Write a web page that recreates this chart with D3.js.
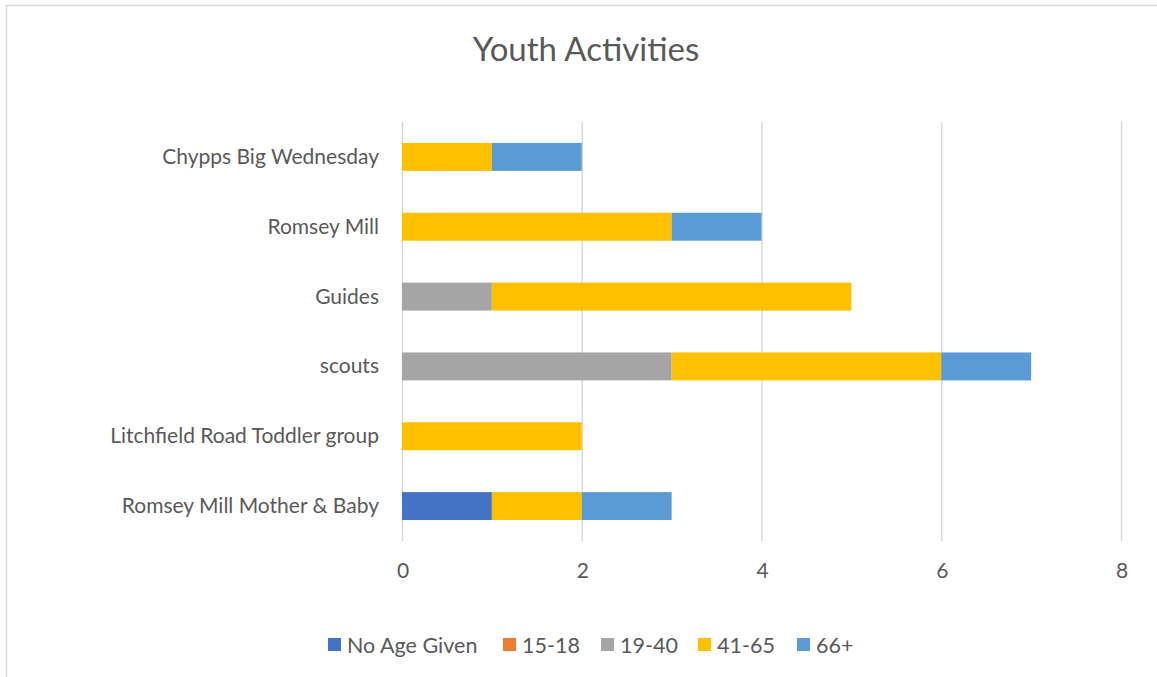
<!DOCTYPE html>
<html><head><meta charset="utf-8">
<script src="https://cdn.jsdelivr.net/npm/d3@7"></script>
<style>body{margin:0;background:#fff}svg{display:block}text{font-family:Lato,"Open Sans",sans-serif;fill:#595959}</style>
</head><body>
<script>
const categories = ["Chypps Big Wednesday","Romsey Mill","Guides","scouts","Litchfield Road Toddler group","Romsey Mill Mother & Baby"];
const seriesNames = ["No Age Given","15-18","19-40","41-65","66+"];
const noAgeGiven = [0,0,0,0,0,1];
const age15_18 = [0,0,0,0,0,0];
const age19_40 = [0,0,1,3,0,0];
const age41_65 = [1,3,4,3,2,1];
const age66plus = [1,1,0,1,0,1];
const xTicks = [0,2,4,6,8];
const colors = ["#4472C4","#ED7D31","#A5A5A5","#FFC000","#5B9BD5"];

const W=1157,H=677;
const svg=d3.select("body").append("svg").attr("width",W).attr("height",H);
svg.append("path").attr("d",`M6.5,${H} L6.5,5.5 L${W},5.5`).attr("fill","none").attr("stroke","#d9d9d9").attr("stroke-width",1.5);

svg.append("text").attr("x",586).attr("y",61).attr("text-anchor","middle").style("font-size","33px").text("Youth Activities");

const x=d3.scaleLinear().domain([0,8]).range([402,1121]);
const y=d3.scaleBand().domain(categories).range([122,541]).paddingInner(0.6).paddingOuter(0.3);

svg.append("g").selectAll("line").data(xTicks).join("line")
  .attr("x1",d=>x(d)+0.5).attr("x2",d=>x(d)+0.5).attr("y1",122).attr("y2",541)
  .attr("stroke","#d9d9d9").attr("stroke-width",1.5);

const rows=categories.map((c,i)=>({cat:c,"No Age Given":noAgeGiven[i],"15-18":age15_18[i],"19-40":age19_40[i],"41-65":age41_65[i],"66+":age66plus[i]}));
const stacked=d3.stack().keys(seriesNames)(rows);
svg.append("g").selectAll("g").data(stacked).join("g").attr("fill",(d,i)=>colors[i])
  .selectAll("rect").data(d=>d.filter(p=>p[1]>p[0])).join("rect")
  .attr("x",d=>x(d[0])).attr("width",d=>x(d[1])-x(d[0]))
  .attr("y",d=>y(d.data.cat)).attr("height",y.bandwidth());

const xa=d3.axisBottom(x).tickValues(xTicks).tickSize(0).tickPadding(0);
const gx=svg.append("g").attr("transform","translate(0.5,563)").call(xa);
gx.select(".domain").remove();
gx.selectAll("text").style("font-size","21px").attr("fill","#595959").attr("font-family","Lato");

const ya=d3.axisLeft(y).tickSize(0).tickPadding(0);
const gy=svg.append("g").attr("transform","translate(379,0)").call(ya);
gy.select(".domain").remove();
gy.selectAll("text").style("font-size","21px").attr("fill","#595959").attr("font-family","Lato").attr("dy","0.33em");

const legX=[328,503,601,698,797];
const items=svg.append("g").selectAll("g").data(seriesNames).join("g")
  .attr("transform",(d,i)=>`translate(${legX[i]},0)`);
items.append("rect").attr("width",13).attr("height",13).attr("y",638).attr("fill",(d,i)=>colors[i]);
items.append("text").attr("y",652.5).attr("x",19).style("font-size","21.5px").text(d=>d);
</script>
</body></html>
